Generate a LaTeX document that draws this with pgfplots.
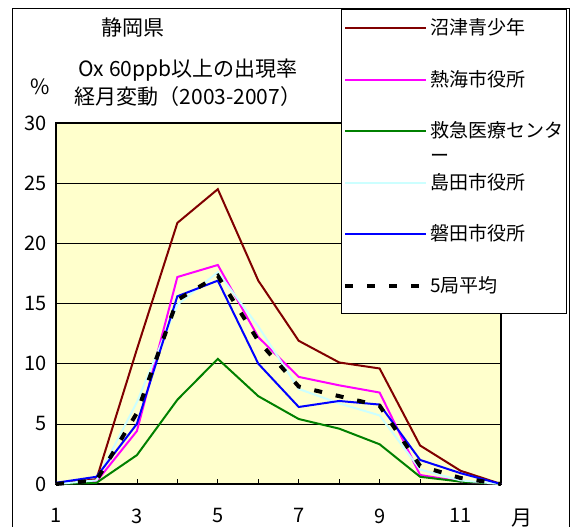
\documentclass[border=0pt]{standalone}
\usepackage{fontspec}
\setmainfont{Noto Sans CJK JP}
\usepackage{pgfplots}
\pgfplotsset{compat=1.18}
\definecolor{bgyellow}{HTML}{FFFFCC}
\definecolor{numazu}{HTML}{800000}
\definecolor{atami}{HTML}{FF00FF}
\definecolor{kyukyu}{HTML}{008000}
\definecolor{shimada}{HTML}{CCFFFF}
\definecolor{iwata}{HTML}{0000FF}
\newcommand{\fs}{\fontsize{19bp}{23bp}\selectfont}
\newcommand{\ft}{\fontsize{21bp}{25bp}\selectfont}
\begin{document}
\begin{tikzpicture}
\draw[black, line width=0.8bp] (12bp,-10bp) rectangle (569bp,519bp);
\node[font=\ft] at (133bp,499bp) {静岡県};
\node[font=\ft] at (188bp,457bp) {Ox 60ppb以上の出現率};
\node[font=\ft] at (188bp,430bp) {経月変動（2003-2007）};
\node[font=\ft] at (40bp,440bp) {\%};
\node[font=\ft] at (522bp,9bp) {月};
\begin{axis}[
  set layers,
  clip=false,
  at={(56bp,43bp)}, anchor=south west,
  scale only axis, width=445bp, height=361bp,
  xmin=1, xmax=12, ymin=0, ymax=30,
  xtick={1,...,12}, xticklabels={1,,3,,5,,7,,9,,11,},
  ytick={0,5,...,30},
  tick pos=left, tick align=inside, major tick length=5bp,
  ymajorgrids, grid style={black, line width=0.6bp},
  axis background/.style={fill=bgyellow},
  axis line style={black, line width=1.8bp},
  tick style={black, line width=0.8bp},
  ytick style={draw=none},
  font=\fs,
  tick label style={font=\fontsize{20bp}{24bp}\selectfont},
  /pgf/number format/assume math mode=true,
  xticklabel style={yshift=-21bp},
  yticklabel style={xshift=-6bp},
  legend cell align=left,
  legend image code/.code={\draw[#1] (0bp,0bp) -- (81bp,0bp);},
  legend style={at={(0.638,1.30)}, anchor=north west, draw=none, fill=none,
    row sep=28.5bp, nodes={text height=16bp, text depth=3bp, inner sep=2bp}},
  every axis plot/.append style={line width=2bp},
]
\addplot[numazu] coordinates {(1,0)(2,0.4)(3,11.2)(4,21.7)(5,24.5)(6,16.9)(7,11.9)(8,10.1)(9,9.6)(10,3.2)(11,1.1)(12,0)};
\addlegendentry{沼津青少年}
\addplot[atami] coordinates {(1,0)(2,0.2)(3,4.4)(4,17.2)(5,18.2)(6,12.2)(7,8.9)(8,8.2)(9,7.6)(10,0.75)(11,0.2)(12,0)};
\addlegendentry{熱海市役所}
\addplot[kyukyu] coordinates {(1,0)(2,0.1)(3,2.4)(4,7.0)(5,10.4)(6,7.3)(7,5.4)(8,4.6)(9,3.3)(10,0.6)(11,0.2)(12,0)};
\addlegendentry{\rlap{\raisebox{-25bp}[0pt][0pt]{ー}}救急医療センタ}
\addplot[shimada] coordinates {(1,0)(2,0.3)(3,6.8)(4,14.9)(5,17.6)(6,13.1)(7,7.9)(8,6.7)(9,5.7)(10,1.2)(11,0.3)(12,0)};
\addlegendentry{島田市役所}
\addplot[iwata] coordinates {(1,0.1)(2,0.6)(3,5.0)(4,15.6)(5,16.9)(6,10.0)(7,6.4)(8,6.9)(9,6.6)(10,2.0)(11,0.9)(12,0)};
\addlegendentry{磐田市役所}
\addplot[black, line width=4bp, dash pattern=on 8bp off 14bp] coordinates {(1,0)(2,0.3)(3,5.9)(4,15.3)(5,17.3)(6,11.9)(7,8.1)(8,7.3)(9,6.5)(10,1.5)(11,0.5)(12,0)};
\addlegendentry{5局平均}
\draw[black, fill=white, line width=0.8bp] (rel axis cs:0.6404,1.3158) rectangle (rel axis cs:1.146,0.4737);
\end{axis}
\pgfresetboundingbox
\path[use as bounding box] (0,0) rectangle (573bp,527bp);
\end{tikzpicture}
\end{document}
